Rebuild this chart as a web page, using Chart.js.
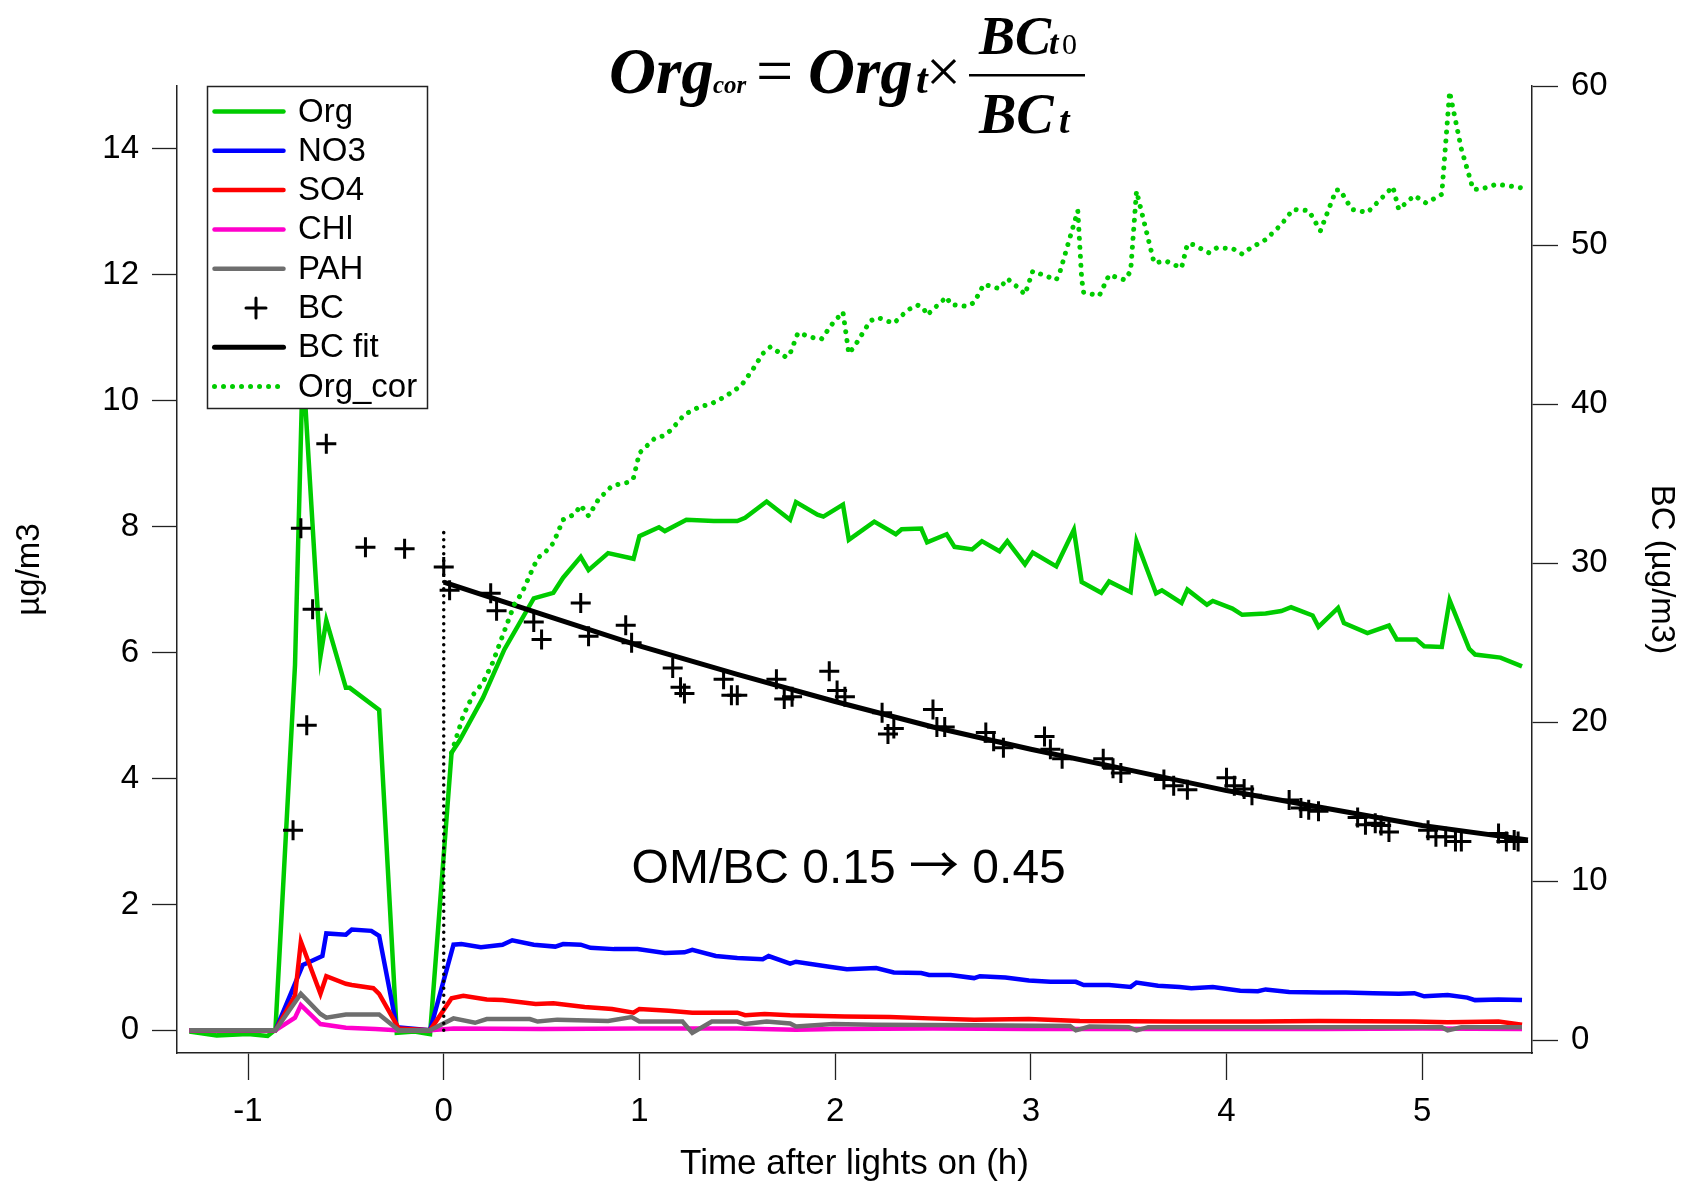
<!DOCTYPE html>
<html>
<head>
<meta charset="utf-8">
<title>Org correction with BC</title>
<script src="https://cdn.jsdelivr.net/npm/chart.js@4.4.0/dist/chart.umd.min.js"></script>
<style>
  html, body { margin: 0; padding: 0; background: #fff; }
  canvas { display: block; }
</style>
</head>
<body>
<canvas id="bcChart" width="1693" height="1182"></canvas>
<script>
// axis ticks
const xTicks = [-1, 0, 1, 2, 3, 4, 5];
const leftTicks = [0, 2, 4, 6, 8, 10, 12, 14];
const rightTicks = [0, 10, 20, 30, 40, 50, 60];

// Org (ug/m3), time in h after lights on
const orgTime = [-1.30, -1.16, -1.00, -0.90, -0.86, -0.76, -0.72, -0.63, -0.60, -0.50, -0.48, -0.33, -0.24, -0.15, -0.07,
  0.04, 0.08, 0.20, 0.31, 0.46, 0.56, 0.61, 0.70, 0.74, 0.84, 0.97, 1.00, 1.10, 1.13, 1.24, 1.38, 1.50, 1.54, 1.65, 1.77,
  1.80, 1.91, 1.94, 2.04, 2.07, 2.20, 2.31, 2.34, 2.44, 2.47, 2.57, 2.61, 2.70, 2.75, 2.84, 2.88, 2.97, 3.01, 3.13, 3.22,
  3.26, 3.36, 3.40, 3.51, 3.54, 3.64, 3.67, 3.77, 3.80, 3.90, 3.93, 4.03, 4.08, 4.20, 4.28, 4.33, 4.44, 4.47, 4.57, 4.60,
  4.72, 4.83, 4.87, 4.97, 5.01, 5.10, 5.14, 5.24, 5.27, 5.40, 5.51];
const orgVals = [-0.02, -0.08, -0.06, -0.09, 0.01, 5.8, 10.6, 5.94, 6.51, 5.44, 5.44, 5.09, -0.04, -0.02, -0.06,
  4.41, 4.6, 5.28, 6.05, 6.86, 6.95, 7.19, 7.52, 7.31, 7.58, 7.49, 7.85, 7.99, 7.93, 8.11, 8.09, 8.09, 8.14, 8.40, 8.11,
  8.39, 8.19, 8.16, 8.35, 7.79, 8.08, 7.88, 7.96, 7.97, 7.75, 7.88, 7.68, 7.64, 7.77, 7.61, 7.77, 7.40, 7.59, 7.37, 7.95,
  7.12, 6.95, 7.13, 6.96, 7.77, 6.94, 6.99, 6.79, 7.0, 6.76, 6.82, 6.70, 6.60, 6.62, 6.66, 6.72, 6.59, 6.41, 6.71, 6.47,
  6.31, 6.43, 6.21, 6.21, 6.10, 6.09, 6.83, 6.06, 5.97, 5.92, 5.78];

// NO3
const no3Time = [-1.30, -0.86, -0.72, -0.67, -0.62, -0.60, -0.50, -0.47, -0.37, -0.33, -0.24, -0.07, 0.05, 0.09, 0.19,
  0.30, 0.35, 0.46, 0.57, 0.61, 0.70, 0.75, 0.87, 0.99, 1.13, 1.23, 1.27, 1.39, 1.50, 1.63, 1.66, 1.77, 1.80, 1.97, 2.06,
  2.21, 2.30, 2.44, 2.48, 2.59, 2.71, 2.74, 2.87, 2.99, 3.10, 3.23, 3.27, 3.40, 3.51, 3.54, 3.65, 3.76, 3.82, 3.93, 4.07,
  4.16, 4.20, 4.32, 4.49, 4.61, 4.75, 4.88, 4.96, 5.01, 5.13, 5.23, 5.27, 5.39, 5.51];
const no3Vals = [0, 0, 1.04, 1.11, 1.18, 1.54, 1.52, 1.60, 1.58, 1.50, 0.05, 0, 1.36, 1.37, 1.32,
  1.36, 1.43, 1.36, 1.33, 1.37, 1.36, 1.31, 1.29, 1.29, 1.23, 1.24, 1.28, 1.18, 1.15, 1.13, 1.18, 1.06, 1.09, 1.01, 0.97,
  0.99, 0.92, 0.91, 0.88, 0.88, 0.83, 0.86, 0.84, 0.79, 0.77, 0.77, 0.72, 0.72, 0.69, 0.76, 0.71, 0.69, 0.67, 0.69, 0.63,
  0.62, 0.65, 0.61, 0.60, 0.60, 0.59, 0.58, 0.59, 0.54, 0.56, 0.52, 0.48, 0.49, 0.48];

// SO4
const so4Time = [-1.30, -0.86, -0.76, -0.73, -0.63, -0.60, -0.50, -0.47, -0.36, -0.33, -0.23, -0.07, 0.04, 0.10, 0.22,
  0.30, 0.47, 0.56, 0.72, 0.86, 0.97, 1.00, 1.15, 1.27, 1.50, 1.54, 1.64, 1.77, 2.05, 2.28, 2.48, 2.71, 2.99, 3.25, 3.76,
  4.16, 4.47, 4.96, 5.13, 5.39, 5.51];
const so4Vals = [0, 0, 0.55, 1.41, 0.58, 0.86, 0.74, 0.72, 0.67, 0.58, 0.03, 0, 0.51, 0.55, 0.49,
  0.48, 0.42, 0.43, 0.37, 0.34, 0.28, 0.34, 0.31, 0.28, 0.28, 0.24, 0.26, 0.24, 0.22, 0.21, 0.19, 0.17, 0.18, 0.15, 0.14,
  0.14, 0.15, 0.14, 0.13, 0.14, 0.09];

// CHl
const chlTime = [-1.30, -0.86, -0.76, -0.73, -0.63, -0.50, -0.35, -0.24, -0.07, 0.05, 0.5, 1.0, 1.5, 1.8, 2.0, 2.5, 3.0,
  3.5, 4.0, 4.5, 5.0, 5.51];
const chlVals = [0, 0, 0.2, 0.4, 0.1, 0.04, 0.02, 0, 0, 0.03, 0.02, 0.03, 0.03, 0.01, 0.02, 0.03, 0.02,
  0.02, 0.02, 0.02, 0.03, 0.02];

// PAH
const pahTime = [-1.30, -0.86, -0.73, -0.63, -0.60, -0.50, -0.33, -0.23, -0.07, 0.05, 0.16, 0.22, 0.44, 0.48, 0.58,
  0.84, 0.96, 1.00, 1.22, 1.27, 1.37, 1.50, 1.54, 1.65, 1.77, 1.80, 1.99, 2.20, 2.71, 3.20, 3.23, 3.30, 3.50, 3.54, 3.60,
  4.00, 4.50, 5.10, 5.13, 5.20, 5.51];
const pahVals = [0, 0, 0.58, 0.26, 0.20, 0.25, 0.25, 0, 0, 0.19, 0.12, 0.18, 0.18, 0.14, 0.17,
  0.15, 0.21, 0.14, 0.14, -0.04, 0.14, 0.14, 0.10, 0.14, 0.11, 0.06, 0.10, 0.09, 0.08, 0.07, 0.0, 0.06, 0.05, 0.0, 0.05,
  0.05, 0.05, 0.05, 0.0, 0.05, 0.05];

// BC (right axis, ug/m3)
const bcTime = [-0.77, -0.73, -0.70, -0.67, -0.60, -0.40, -0.20, 0.00, 0.03, 0.24, 0.27, 0.46, 0.50, 0.70, 0.74, 0.93,
  0.96, 1.17, 1.21, 1.23, 1.43, 1.47, 1.50, 1.70, 1.74, 1.78, 1.97, 2.01, 2.05, 2.24, 2.27, 2.30, 2.50, 2.52, 2.56, 2.77,
  2.81, 2.86, 3.07, 3.10, 3.16, 3.37, 3.42, 3.46, 3.68, 3.73, 3.80, 4.00, 4.04, 4.09, 4.13, 4.32, 4.38, 4.42, 4.47, 4.67,
  4.71, 4.76, 4.79, 4.83, 5.03, 5.07, 5.12, 5.17, 5.20, 5.39, 5.43, 5.47, 5.49];
const bcVals = [13.2, 32.2, 19.8, 27.1, 37.5, 31.0, 30.9, 29.75, 28.3, 28.1, 27.0, 26.3, 25.2, 27.5, 25.4, 26.1,
  25.0, 23.4, 22.2, 21.8, 22.7, 21.7, 21.7, 22.7, 21.45, 21.6, 23.2, 22.0, 21.6, 20.6, 19.25, 19.6, 20.8, 19.7, 19.7, 19.35,
  18.8, 18.4, 19.1, 18.3, 17.7, 17.7, 17.1, 16.8, 16.4, 16.0, 15.75, 16.5, 16.0, 15.8, 15.4, 15.1, 14.6, 14.5, 14.4, 14.0,
  13.55, 13.65, 13.5, 13.1, 13.2, 12.8, 12.8, 12.5, 12.5, 13.0, 12.5, 12.6, 12.5];

// BC fit
const fitTime = [0, 0.5, 1, 1.5, 2, 2.5, 3, 3.5, 4, 4.5, 5, 5.54];
const fitVals = [28.8, 26.8, 24.8, 23.0, 21.3, 19.7, 18.3, 17.0, 15.7, 14.6, 13.5, 12.6];

// Org corrected for dilution
const orgCorTime = [0.04, 0.10, 0.15, 0.20, 0.25, 0.30, 0.36, 0.40, 0.45, 0.48, 0.52, 0.56, 0.59, 0.61, 0.67, 0.70,
  0.74, 0.79, 0.86, 0.95, 0.97, 1.00, 1.08, 1.12, 1.16, 1.23, 1.31, 1.36, 1.44, 1.52, 1.58, 1.63, 1.67, 1.75, 1.77, 1.81,
  1.89, 1.93, 1.99, 2.04, 2.07, 2.10, 2.18, 2.22, 2.30, 2.37, 2.42, 2.45, 2.47, 2.51, 2.57, 2.59, 2.67, 2.71, 2.76, 2.84,
  2.88, 2.93, 2.97, 3.01, 3.13, 3.15, 3.24, 3.26, 3.27, 3.35, 3.40, 3.48, 3.51, 3.54, 3.63, 3.69, 3.77, 3.80, 3.83, 3.91,
  3.95, 4.03, 4.08, 4.12, 4.20, 4.28, 4.34, 4.42, 4.48, 4.56, 4.58, 4.64, 4.72, 4.85, 4.88, 4.96, 5.02, 5.10, 5.14, 5.20,
  5.26, 5.30, 5.38, 5.47, 5.51];
const orgCorVals = [4.41, 5.0, 5.33, 5.52, 5.84, 6.26, 6.76, 6.95, 7.3, 7.5, 7.6, 7.74, 7.96, 8.11, 8.2, 8.34,
  8.17, 8.43, 8.65, 8.71, 8.78, 9.17, 9.41, 9.44, 9.53, 9.78, 9.91, 9.94, 10.07, 10.24, 10.5, 10.75, 10.86, 10.69, 10.75, 11.08,
  11.0, 10.98, 11.24, 11.41, 10.75, 10.87, 11.27, 11.32, 11.23, 11.44, 11.52, 11.48, 11.36, 11.48, 11.65, 11.53, 11.5, 11.56, 11.85, 11.78,
  11.94, 11.81, 11.69, 12.06, 11.92, 12.06, 13.02, 11.93, 11.72, 11.67, 12.0, 11.92, 12.06, 13.33, 12.19, 12.22, 12.11, 12.49, 12.48, 12.35,
  12.43, 12.42, 12.33, 12.42, 12.56, 12.8, 13.04, 13.02, 12.7, 13.35, 13.35, 13.04, 12.99, 13.4, 13.04, 13.26, 13.14, 13.28, 14.91, 14.0,
  13.36, 13.36, 13.44, 13.4, 13.38];

// lights on marker
const lightsTime = [0, 0];
const lightsVals = [0, 8];

const pts = (ts, vs) => ts.map((t, i) => ({ x: t, y: vs[i] }));

const SANS = '"Liberation Sans", Arial, sans-serif';
const SERIF = '"Liberation Serif", "Times New Roman", serif';
Chart.defaults.font.family = SANS;
Chart.defaults.color = '#000';

function drawLegend(chart) {
  const ctx = chart.ctx;
  const a = chart.chartArea;
  const bx = a.left + 30.5, by = a.top + 0.5, bw = 220, bh = 322;
  ctx.save();
  ctx.fillStyle = '#fff';
  ctx.fillRect(bx, by, bw, bh);
  ctx.strokeStyle = '#222';
  ctx.lineWidth = 1.5;
  ctx.strokeRect(bx, by, bw, bh);
  const items = chart.data.datasets.filter(d => d.label);
  items.forEach((d, i) => {
    const y = by + 25 + i * 39.3;
    const x0 = bx + 7, x1 = bx + 76;
    if (d.showLine === false) {
      const cx = (x0 + x1) / 2 + 7, r = d.pointRadius;
      ctx.setLineDash([]);
      ctx.strokeStyle = d.pointBorderColor;
      ctx.lineWidth = d.pointBorderWidth;
      ctx.beginPath();
      ctx.moveTo(cx - r, y); ctx.lineTo(cx + r, y);
      ctx.moveTo(cx, y - r); ctx.lineTo(cx, y + r);
      ctx.stroke();
    } else {
      ctx.strokeStyle = d.borderColor;
      ctx.lineWidth = d.borderWidth;
      ctx.lineCap = 'round';
      ctx.setLineDash(d.borderDash || []);
      ctx.beginPath();
      ctx.moveTo(x0, y); ctx.lineTo(x1, y);
      ctx.stroke();
    }
    ctx.setLineDash([]);
    ctx.fillStyle = '#000';
    ctx.font = '33px ' + SANS;
    ctx.textBaseline = 'middle';
    ctx.textAlign = 'left';
    ctx.fillText(d.label, bx + 90.5, y + 1);
  });
  ctx.restore();
}

function drawFormula(ctx) {
  const put = (txt, x, y, size, style) => {
    ctx.font = style + ' ' + size + 'px ' + SERIF;
    ctx.fillText(txt, x, y);
  };
  ctx.save();
  ctx.fillStyle = '#000';
  ctx.textBaseline = 'alphabetic';
  ctx.textAlign = 'left';
  put('Org', 609, 93, 65, 'italic bold');
  put('cor', 713, 93, 25, 'italic bold');
  put('=', 756, 93, 66, 'normal');
  put('Org', 808, 93, 65, 'italic bold');
  put('t', 916, 93, 42, 'italic bold');
  put('\u00d7', 926, 92, 62, 'normal');
  ctx.fillRect(969, 74, 116, 2.5);
  put('BC', 979, 54, 54, 'italic bold');
  put('t', 1049, 54, 34, 'italic bold');
  put('0', 1062, 54, 30, 'normal');
  put('BC', 979, 133, 56, 'italic bold');
  put('t', 1059, 133, 38, 'italic bold');
  ctx.restore();
}

function drawRatioNote(chart) {
  const ctx = chart.ctx;
  const xs = chart.scales.x, ys = chart.scales.y;
  let x = xs.getPixelForValue(0.96);
  const y = ys.getPixelForValue(2.34);
  ctx.save();
  ctx.fillStyle = '#000';
  ctx.textBaseline = 'alphabetic';
  ctx.textAlign = 'left';
  const parts = [['OM/BC 0.15 ', '48px ' + SANS], ['\u2192', '50px "Noto Sans CJK SC", "DejaVu Sans", sans-serif'], [' 0.45', '48px ' + SANS]];
  parts.forEach(([txt, font]) => {
    ctx.font = font;
    ctx.fillText(txt, x, y);
    x += ctx.measureText(txt).width;
  });
  ctx.restore();
}

const overlayPlugin = {
  id: 'overlay',
  afterDatasetsDraw(chart) {
    drawLegend(chart);
  },
  afterDraw(chart) {
    drawFormula(chart.ctx);
    drawRatioNote(chart);
  }
};

const axisGrid = { display: true, drawOnChartArea: false, drawTicks: true, tickLength: 25, tickWidth: 1.3, tickColor: '#222' };
const axisBorder = { display: true, color: '#222', width: 1.5 };
const tickFont = { size: 33 };

new Chart(document.getElementById('bcChart'), {
  type: 'line',
  data: {
    datasets: [
      { label: 'Org', data: pts(orgTime, orgVals), yAxisID: 'y', borderColor: '#00cc00', borderWidth: 4.5, order: 9 },
      { label: 'NO3', data: pts(no3Time, no3Vals), yAxisID: 'y', borderColor: '#0000ff', borderWidth: 4.5, order: 8 },
      { label: 'SO4', data: pts(so4Time, so4Vals), yAxisID: 'y', borderColor: '#ff0000', borderWidth: 4.5, order: 7 },
      { label: 'CHl', data: pts(chlTime, chlVals), yAxisID: 'y', borderColor: '#ff00cc', borderWidth: 4.5, order: 6 },
      { label: 'PAH', data: pts(pahTime, pahVals), yAxisID: 'y', borderColor: '#6e6e6e', borderWidth: 4.5, order: 5 },
      { label: 'BC', data: pts(bcTime, bcVals), yAxisID: 'y2', showLine: false, pointStyle: 'cross',
        pointRadius: 10, pointBorderWidth: 3, pointBorderColor: '#000', borderColor: '#000', order: 4 },
      { label: 'BC fit', data: pts(fitTime, fitVals), yAxisID: 'y2', borderColor: '#000', borderWidth: 5, order: 3 },
      { label: 'Org_cor', data: pts(orgCorTime, orgCorVals), yAxisID: 'y', borderColor: '#00cc00', borderWidth: 5,
        borderDash: [0.01, 9], borderCapStyle: 'round', order: 2 },
      { data: pts(lightsTime, lightsVals), yAxisID: 'y', borderColor: '#000', borderWidth: 3.5,
        borderDash: [0.01, 7], borderCapStyle: 'round', order: 1 }
    ]
  },
  options: {
    responsive: false,
    animation: false,
    devicePixelRatio: 1,
    layout: { padding: { top: 86, left: 0, right: 0, bottom: 0 } },
    plugins: { legend: { display: false }, tooltip: { enabled: false } },
    elements: { point: { radius: 0 }, line: { tension: 0 } },
    scales: {
      x: {
        type: 'linear', min: -1.363, max: 5.561,
        afterFit: s => { s.height = 129; },
        afterBuildTicks: s => { s.ticks = xTicks.map(v => ({ value: v })); },
        ticks: { font: tickFont, padding: 12, maxRotation: 0 },
        grid: Object.assign({}, axisGrid, { tickLength: 27 }),
        border: axisBorder,
        title: { display: true, text: 'Time after lights on (h)', font: { size: 35, lineHeight: 1 }, padding: { top: 0, bottom: 0 } }
      },
      y: {
        type: 'linear', position: 'left', min: -0.36, max: 15.0,
        afterFit: s => { s.width = 177; },
        afterBuildTicks: s => { s.ticks = leftTicks.map(v => ({ value: v })); },
        ticks: { font: tickFont, padding: 13 },
        grid: axisGrid,
        border: axisBorder,
        title: { display: true, text: '\u00b5g/m3', font: { size: 33 }, padding: { top: 10, bottom: 0 } }
      },
      y2: {
        type: 'linear', position: 'right', min: -0.8, max: 60,
        afterFit: s => { s.width = 161; },
        afterBuildTicks: s => { s.ticks = rightTicks.map(v => ({ value: v })); },
        ticks: { font: tickFont, padding: 13 },
        grid: Object.assign({}, axisGrid, { tickLength: 26 }),
        border: axisBorder,
        title: { display: true, text: 'BC (\u00b5g/m3)', font: { size: 33 }, padding: { top: 12, bottom: 0 } }
      }
    }
  },
  plugins: [overlayPlugin]
});
</script>
</body>
</html>
